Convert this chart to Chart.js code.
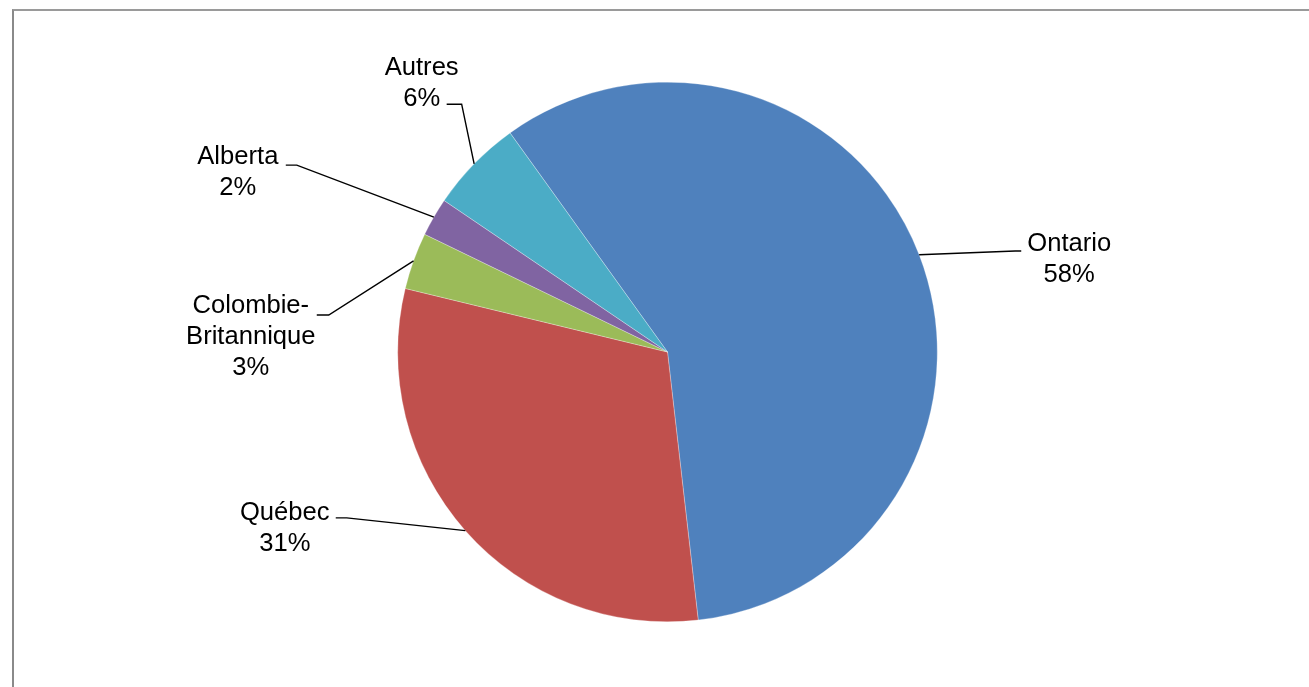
<!DOCTYPE html>
<html lang="fr">
<head>
<meta charset="utf-8">
<title>Répartition par province</title>
<script src="https://cdn.jsdelivr.net/npm/chart.js@4.4.1/dist/chart.umd.min.js"></script>
<style>
  html, body { margin: 0; padding: 0; background: #fff; overflow: hidden; }
  #wrap { position: relative; width: 1309px; height: 687px; overflow: hidden; }
  #frame {
    position: absolute; left: 12px; top: 9px; width: 1400px; height: 800px;
    border-left: 2px solid #8a8a8a; border-top: 2px solid #9a9a9a;
  }
  #pie { position: absolute; left: 0; top: 0; }
</style>
</head>
<body>
<div id="wrap">
  <div id="frame"></div>
  <canvas id="pie" width="1309" height="687"></canvas>
</div>
<script>
const provinces = ['Ontario', 'Québec', 'Colombie-Britannique', 'Alberta', 'Autres'];
const labelLines = [['Ontario'], ['Québec'], ['Colombie-', 'Britannique'], ['Alberta'], ['Autres']];
const shares = [58.1, 30.6, 3.4, 2.3, 5.6];
const sliceColors = ['#4f81bd', '#c0504d', '#9bbb59', '#8064a2', '#4bacc6'];

// label layout, offsets from the pie centre for a 270px radius
const labelLayout = [
  { text: [402, -93], end: [354, -101], elbow: [348, -101] },
  { text: [-383, 177], end: [-332, 166], elbow: [-321, 166] },
  { text: [-417, -15], end: [-351, -37], elbow: [-339, -37] },
  { text: [-430, -180], end: [-382, -187], elbow: [-371, -187] },
  { text: [-246, -269], end: [-221, -248], elbow: [-206, -248] }
];

const FONT = '25.6px "Liberation Sans", Arial, sans-serif';
const LINE_HEIGHT = 31;

const leaderLabels = {
  id: 'leaderLabels',
  afterDatasetsDraw(chart) {
    const ctx = chart.ctx;
    const meta = chart.getDatasetMeta(0);
    const total = shares.reduce((a, b) => a + b, 0);

    ctx.save();
    meta.data.forEach((arc, i) => {
      const { x, y, outerRadius, startAngle, endAngle } = arc.getProps(
        ['x', 'y', 'outerRadius', 'startAngle', 'endAngle'], true);
      const s = outerRadius / 270;
      const mid = (startAngle + endAngle) / 2;
      const ax = x + Math.cos(mid) * outerRadius;
      const ay = y + Math.sin(mid) * outerRadius;
      const lay = labelLayout[i];

      ctx.strokeStyle = '#000';
      ctx.lineWidth = 1.4;
      ctx.beginPath();
      ctx.moveTo(ax, ay);
      ctx.lineTo(x + lay.elbow[0] * s, y + lay.elbow[1] * s);
      ctx.lineTo(x + lay.end[0] * s, y + lay.end[1] * s);
      ctx.stroke();

      const lines = [...labelLines[i], Math.round(shares[i] / total * 100) + '%'];
      const cx = x + lay.text[0] * s;
      const top = y + lay.text[1] * s - (lines.length - 1) * LINE_HEIGHT / 2;
      ctx.fillStyle = '#000';
      ctx.font = FONT;
      ctx.textAlign = 'center';
      ctx.textBaseline = 'middle';
      lines.forEach((line, k) => ctx.fillText(line, cx, top + k * LINE_HEIGHT));
    });
    ctx.restore();
  }
};

new Chart(document.getElementById('pie'), {
  type: 'pie',
  data: {
    labels: provinces,
    datasets: [{
      data: shares,
      backgroundColor: sliceColors,
      borderColor: 'rgba(255,255,255,0.7)',
      borderWidth: 0.4
    }]
  },
  options: {
    responsive: false,
    animation: false,
    rotation: -35.7,
    layout: { padding: { top: 82, bottom: 65, left: 300, right: 274 } },
    plugins: {
      legend: { display: false },
      tooltip: { enabled: false }
    }
  },
  plugins: [leaderLabels]
});
</script>
</body>
</html>
